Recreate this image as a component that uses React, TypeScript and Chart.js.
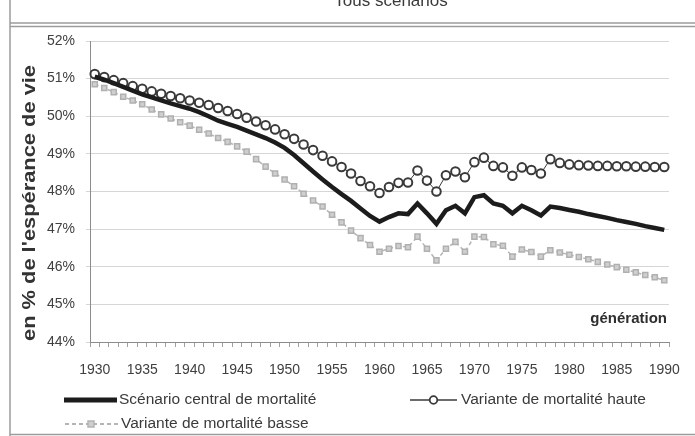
import React, { useEffect, useRef } from "react";
import { Chart, registerables } from "chart.js";

Chart.register(...registerables);

const years = [
  "1930","1931","1932","1933","1934","1935","1936","1937","1938","1939",
  "1940","1941","1942","1943","1944","1945","1946","1947","1948","1949",
  "1950","1951","1952","1953","1954","1955","1956","1957","1958","1959",
  "1960","1961","1962","1963","1964","1965","1966","1967","1968","1969",
  "1970","1971","1972","1973","1974","1975","1976","1977","1978","1979",
  "1980","1981","1982","1983","1984","1985","1986","1987","1988","1989",
  "1990",
];

const labeledYears = ["1930","1935","1940","1945","1950","1955","1960","1965","1970","1975","1980","1985","1990"];

const central = [
  51.05, 50.97, 50.88, 50.78, 50.68, 50.58, 50.50, 50.42, 50.34, 50.27,
  50.20, 50.11, 50.00, 49.88, 49.80, 49.72, 49.62, 49.52, 49.42, 49.30,
  49.16, 48.97, 48.75, 48.53, 48.32, 48.12, 47.93, 47.75, 47.55, 47.35,
  47.20, 47.32, 47.42, 47.40, 47.68, 47.42, 47.14, 47.50, 47.62, 47.42,
  47.85, 47.90, 47.68, 47.62, 47.42, 47.62, 47.50, 47.36, 47.60, 47.56,
  47.51, 47.46, 47.40, 47.35, 47.30, 47.24, 47.19, 47.14, 47.08, 47.03,
  46.98,
];

const haute = [
  51.12, 51.04, 50.96, 50.88, 50.80, 50.73, 50.66, 50.60, 50.54, 50.48,
  50.42, 50.36, 50.30, 50.22, 50.14, 50.06, 49.96, 49.86, 49.76, 49.65,
  49.52, 49.40, 49.25, 49.10, 48.95, 48.80, 48.65, 48.48, 48.28, 48.14,
  47.96, 48.12, 48.23, 48.24, 48.56, 48.29, 48.00, 48.43, 48.53, 48.38,
  48.78, 48.90, 48.68, 48.64, 48.42, 48.64, 48.57, 48.48, 48.86, 48.76,
  48.72, 48.70, 48.69, 48.68, 48.68, 48.67, 48.67, 48.66, 48.66, 48.65,
  48.65,
];

const basse = [
  50.85, 50.75, 50.64, 50.52, 50.42, 50.32, 50.18, 50.05, 49.94, 49.84,
  49.75, 49.64, 49.54, 49.42, 49.32, 49.20, 49.06, 48.86, 48.66, 48.48,
  48.32, 48.14, 47.94, 47.76, 47.60, 47.38, 47.18, 46.96, 46.76, 46.58,
  46.40, 46.48, 46.55, 46.52, 46.80, 46.48, 46.17, 46.48, 46.66, 46.40,
  46.80, 46.79, 46.60, 46.56, 46.27, 46.46, 46.39, 46.27, 46.44, 46.38,
  46.32, 46.26, 46.20, 46.13, 46.06, 45.99, 45.92, 45.85, 45.78, 45.72,
  45.64,
];

const seriesNames = [
  "Scénario central de mortalité",
  "Variante de mortalité haute",
  "Variante de mortalité basse",
];

const title = "Tous scénarios";
const yTitle = "en % de l'espérance de vie";
const xTitle = "génération";

const FONT = '"Liberation Sans", Arial, sans-serif';
const CENTRAL_COLOR = "#1c1c1c";
const HIGH_COLOR = "#3a3a3a";
const LOW_LINE = "#b4b4b4";
const LOW_FILL = "#cfcfcf";
const TEXT = "#3a3a3a";

const decor = {
  id: "decor",
  beforeDraw(chart: any) {
    const ctx = chart.ctx;
    ctx.save();
    ctx.fillStyle = "#ffffff";
    ctx.fillRect(0, 0, chart.width, chart.height);
    ctx.restore();
  },
  afterDraw(chart: any) {
    const ctx = chart.ctx;
    ctx.save();
    // frame
    ctx.strokeStyle = "#9c9c9c";
    ctx.lineWidth = 1.5;
    ctx.beginPath();
    ctx.moveTo(10, 0);
    ctx.lineTo(10, 436);
    ctx.moveTo(10, 23);
    ctx.lineTo(695, 23);
    ctx.moveTo(10, 26.5);
    ctx.lineTo(695, 26.5);
    ctx.moveTo(10, 434.5);
    ctx.lineTo(695, 434.5);
    ctx.stroke();

    // cropped title
    ctx.fillStyle = TEXT;
    ctx.font = `17px ${FONT}`;
    ctx.textAlign = "center";
    ctx.textBaseline = "alphabetic";
    ctx.fillText(title, 391, 6);

    // y axis title
    ctx.save();
    ctx.translate(30, 203);
    ctx.rotate(-Math.PI / 2);
    ctx.scale(1.15, 1);
    ctx.font = `bold 19px ${FONT}`;
    ctx.textAlign = "center";
    ctx.textBaseline = "middle";
    ctx.fillStyle = "#333333";
    ctx.fillText(yTitle, 0, 0);
    ctx.restore();

    // x title inside plot
    ctx.font = `bold 15px ${FONT}`;
    ctx.textAlign = "right";
    ctx.textBaseline = "middle";
    ctx.fillStyle = "#2e2e2e";
    ctx.fillText(xTitle, 667, 319);

    // legend
    ctx.font = `15.5px ${FONT}`;
    ctx.textAlign = "left";
    ctx.textBaseline = "middle";
    ctx.fillStyle = TEXT;

    // item 1
    ctx.strokeStyle = CENTRAL_COLOR;
    ctx.lineWidth = 5;
    ctx.setLineDash([]);
    ctx.beginPath();
    ctx.moveTo(64, 400);
    ctx.lineTo(117, 400);
    ctx.stroke();
    ctx.fillText(seriesNames[0], 119, 400);

    // item 2
    ctx.strokeStyle = HIGH_COLOR;
    ctx.lineWidth = 1.5;
    ctx.beginPath();
    ctx.moveTo(410, 400);
    ctx.lineTo(457, 400);
    ctx.stroke();
    ctx.fillStyle = "#ffffff";
    ctx.lineWidth = 1.8;
    ctx.beginPath();
    ctx.arc(433.5, 400, 3.8, 0, Math.PI * 2);
    ctx.fill();
    ctx.stroke();
    ctx.fillStyle = TEXT;
    ctx.fillText(seriesNames[1], 461, 400);

    // item 3
    ctx.strokeStyle = LOW_LINE;
    ctx.lineWidth = 2;
    ctx.setLineDash([4, 3]);
    ctx.beginPath();
    ctx.moveTo(65, 424);
    ctx.lineTo(118, 424);
    ctx.stroke();
    ctx.setLineDash([]);
    ctx.fillStyle = LOW_FILL;
    ctx.lineWidth = 1.5;
    ctx.fillRect(88, 421, 6, 6);
    ctx.strokeRect(88, 421, 6, 6);
    ctx.fillStyle = TEXT;
    ctx.fillText(seriesNames[2], 121, 424);

    ctx.restore();
  },
};

export default function App() {
  const ref = useRef<HTMLCanvasElement | null>(null);

  useEffect(() => {
    if (!ref.current) return;
    const chart = new Chart(ref.current, {
      type: "line",
      data: {
        labels: years,
        datasets: [
          {
            label: seriesNames[0],
            data: central,
            borderColor: CENTRAL_COLOR,
            backgroundColor: CENTRAL_COLOR,
            borderWidth: 4.5,
            pointRadius: 0,
            tension: 0,
            fill: false,
          },
          {
            label: seriesNames[1],
            data: haute,
            borderColor: HIGH_COLOR,
            backgroundColor: "#ffffff",
            borderWidth: 1,
            pointStyle: "circle",
            pointRadius: 4.3,
            pointBorderWidth: 2,
            pointBorderColor: HIGH_COLOR,
            pointBackgroundColor: "#ffffff",
            tension: 0,
            fill: false,
          },
          {
            label: seriesNames[2],
            data: basse,
            borderColor: LOW_LINE,
            backgroundColor: LOW_FILL,
            borderWidth: 1.5,
            borderDash: [4, 3],
            pointStyle: "rect",
            pointRadius: 3.6,
            pointBorderWidth: 1.5,
            pointBorderColor: "#b0b0b0",
            pointBackgroundColor: LOW_FILL,
            tension: 0,
            fill: false,
          },
        ],
      },
      options: {
        responsive: false,
        animation: false,
        events: [],
        layout: { padding: { left: 0, top: 41, right: 21, bottom: 54 } },
        plugins: {
          legend: { display: false },
          title: { display: false },
          tooltip: { enabled: false },
        },
        scales: {
          x: {
            type: "category",
            offset: true,
            afterFit: (scale: any) => {
              scale.height = 40;
            },
            grid: {
              display: true,
              drawOnChartArea: false,
              drawTicks: true,
              tickLength: 5,
              color: "#a0a0a0",
              offset: true,
            },
            border: { display: true, color: "#8c8c8c", width: 1 },
            ticks: {
              autoSkip: false,
              maxRotation: 0,
              minRotation: 0,
              padding: 15,
              color: "#404040",
              font: { family: FONT, size: 14 },
              callback: (_v: any, i: number) =>
                labeledYears.includes(years[i]) ? years[i] : "",
            },
          },
          y: {
            min: 44,
            max: 52,
            afterFit: (scale: any) => {
              scale.width = 90;
            },
            grid: {
              color: "#d6d6d6",
              lineWidth: 1,
              drawTicks: true,
              tickLength: 4,
            },
            border: { display: true, color: "#8c8c8c", width: 1 },
            ticks: {
              stepSize: 1,
              padding: 11,
              color: "#404040",
              font: { family: FONT, size: 14 },
              callback: (v: any) => `${v}%`,
            },
          },
        },
      },
      plugins: [decor],
    });
    return () => chart.destroy();
  }, []);

  return (
    <div style={{ position: "absolute", left: 0, top: 0, width: 695, height: 436 }}>
      <canvas ref={ref} width={695} height={436} style={{ display: "block" }} />
    </div>
  );
}
